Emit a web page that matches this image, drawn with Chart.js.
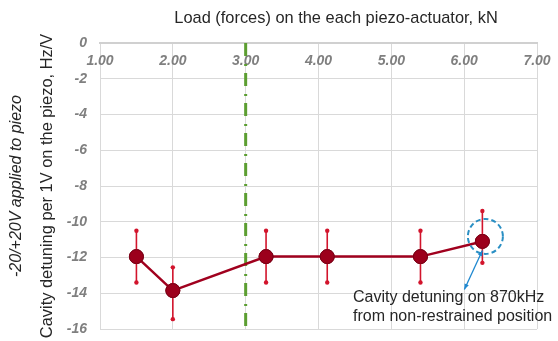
<!DOCTYPE html>
<html>
<head>
<meta charset="utf-8">
<script src="https://cdn.jsdelivr.net/npm/chart.js@4/dist/chart.umd.min.js"></script>
<style>
  html, body { margin: 0; padding: 0; background: #fff; }
  #wrap { width: 558px; height: 341px; position: relative; }
</style>
</head>
<body>
<div id="wrap"><canvas id="detuneChart"></canvas></div>
<script>
// Data
const loadKN = [1.50, 2.00, 3.28, 4.12, 5.40, 6.25];
const detuning = [-11.95, -13.85, -11.95, -11.95, -11.95, -11.1];
const errUpper = [-10.5, -12.55, -10.5, -10.5, -10.5, -9.4];
const errLower = [-13.4, -15.45, -13.4, -13.4, -13.4, -12.3];
const markerLoad = [3.00, 3.00];
const markerRange = [0, -16];
const xTicks = [1, 2, 3, 4, 5, 6, 7];
const yTicks = [0, -2, -4, -6, -8, -10, -12, -14, -16];
const noteIndex = 5;
const noteLines = ['Cavity detuning on 870kHz', 'from non-restrained position'];

// Colors
const lineColor = '#a0001e';
const errColor = '#d2142c';
const greenColor = '#5c9e31';
const blueColor = '#2a8fc4';
const tickColor = '#7f7f7f';
const gridColor = '#d9d9d9';
const textColor = '#262626';

const fontFamily = 'Liberation Sans, Arial, sans-serif';
const tickFont = { family: fontFamily, size: 14, weight: 'bold', style: 'italic' };

// error bars + annotation drawn with the chart's scales
const extrasPlugin = {
    id: 'extras',
    afterDatasetsDraw: (chart) => {
        const ctx = chart.ctx;
        const xs = chart.scales.x;
        const ys = chart.scales.y;

        // error bars
        ctx.save();
        ctx.strokeStyle = errColor;
        ctx.fillStyle = errColor;
        ctx.lineWidth = 1.6;
        loadKN.forEach((v, i) => {
            const px = xs.getPixelForValue(v);
            const top = ys.getPixelForValue(errUpper[i]);
            const bot = ys.getPixelForValue(errLower[i]);
            ctx.beginPath();
            ctx.moveTo(px, top);
            ctx.lineTo(px, bot);
            ctx.stroke();
            [top, bot].forEach(py => {
                ctx.beginPath();
                ctx.arc(px, py, 2.2, 0, Math.PI * 2);
                ctx.fill();
            });
        });
        ctx.restore();

        // redraw markers above error bars
        const meta = chart.getDatasetMeta(0);
        meta.data.forEach(pt => pt.draw(ctx));

        // dashed circle around the last point
        const cx = xs.getPixelForValue(loadKN[noteIndex]) + 3;
        const cy = ys.getPixelForValue(detuning[noteIndex]) - 5;
        ctx.save();
        ctx.strokeStyle = blueColor;
        ctx.lineWidth = 2;
        ctx.setLineDash([5, 3]);
        ctx.beginPath();
        ctx.arc(cx, cy, 17.5, 0, Math.PI * 2);
        ctx.stroke();
        ctx.restore();

        // arrow
        const ax1 = xs.getPixelForValue(loadKN[noteIndex]);
        const ay1 = ys.getPixelForValue(detuning[noteIndex]) + 9;
        const ax2 = ax1 - 18;
        const ay2 = ay1 + 39;
        ctx.save();
        ctx.strokeStyle = '#1e88d0';
        ctx.fillStyle = '#1e88d0';
        ctx.lineWidth = 1.3;
        ctx.beginPath();
        ctx.moveTo(ax1, ay1);
        ctx.lineTo(ax2, ay2);
        ctx.stroke();
        const ang = Math.atan2(ay2 - ay1, ax2 - ax1);
        [[ax2, ay2, ang], [ax1, ay1, ang + Math.PI]].forEach(([hx, hy, a]) => {
            ctx.beginPath();
            ctx.moveTo(hx, hy);
            ctx.lineTo(hx - 6 * Math.cos(a - 0.4), hy - 6 * Math.sin(a - 0.4));
            ctx.lineTo(hx - 6 * Math.cos(a + 0.4), hy - 6 * Math.sin(a + 0.4));
            ctx.closePath();
            ctx.fill();
        });
        ctx.restore();

        // note text
        ctx.save();
        ctx.fillStyle = textColor;
        ctx.font = '16px ' + fontFamily;
        ctx.textBaseline = 'middle';
        ctx.textAlign = 'left';
        ctx.fillText(noteLines[0], 353, 298);
        ctx.fillText(noteLines[1], 353, 317);
        ctx.restore();

        // chart title
        ctx.save();
        ctx.fillStyle = textColor;
        ctx.font = '16.4px ' + fontFamily;
        ctx.textAlign = 'center';
        ctx.textBaseline = 'middle';
        ctx.fillText('Load (forces) on the each piezo-actuator, kN', 336, 18);
        ctx.restore();
    }
};

new Chart(document.getElementById('detuneChart').getContext('2d'), {
    type: 'line',
    data: {
        datasets: [{
            label: 'Detuning',
            data: loadKN.map((v, i) => ({ x: v, y: detuning[i] })),
            borderColor: lineColor,
            backgroundColor: lineColor,
            borderWidth: 2.5,
            pointRadius: 7,
            pointBackgroundColor: '#9c001c',
            pointBorderColor: '#7a0016',
            pointBorderWidth: 1,
            tension: 0
        }, {
            label: 'Marker',
            data: markerLoad.map((v, i) => ({ x: v, y: markerRange[i] })),
            borderColor: greenColor,
            borderWidth: 3,
            borderDash: [13, 8, 2, 7],
            pointRadius: 0,
            order: 5
        }]
    },
    options: {
        responsive: true,
        maintainAspectRatio: false,
        animation: false,
        layout: { padding: { top: 43, right: 21, bottom: 12, left: 0 } },
        plugins: {
            legend: { display: false },
            title: { display: false },
            tooltip: { enabled: false }
        },
        scales: {
            y2: {
                type: 'linear',
                position: 'left',
                weight: 2,
                min: -16,
                max: 0,
                grid: { display: false, drawTicks: false },
                border: { display: false },
                ticks: { display: false },
                afterFit: (s) => { s.width = 30; s.paddingTop = 0; s.paddingBottom = 0; },
                title: {
                    display: true,
                    text: '-20/+20V applied to piezo',
                    color: textColor,
                    font: { family: fontFamily, size: 16, style: 'italic' },
                    padding: { top: 7, bottom: 0 }
                }
            },
            y: {
                type: 'linear',
                position: 'left',
                weight: 1,
                min: -16,
                max: 0,
                afterBuildTicks: (s) => { s.ticks = yTicks.map(v => ({ value: v })); },
                afterFit: (s) => { s.width = 70; s.paddingTop = 0; s.paddingBottom = 0; },
                grid: { color: gridColor, drawTicks: false, lineWidth: 1 },
                border: { display: false },
                ticks: { color: tickColor, font: tickFont, padding: 13 },
                title: {
                    display: true,
                    text: 'Cavity detuning per 1V on the piezo, Hz/V',
                    color: textColor,
                    font: { family: fontFamily, size: 16.4 },
                    padding: { top: 8, bottom: 0 }
                }
            },
            x: {
                type: 'linear',
                position: 'top',
                min: 1,
                max: 7,
                afterBuildTicks: (s) => { s.ticks = xTicks.map(v => ({ value: v })); },
                afterFit: (s) => { s.height = 0; s.paddingLeft = 0; s.paddingRight = 0; },
                grid: { color: gridColor, drawTicks: false, lineWidth: 1 },
                border: { display: true, color: '#d0d0d0', width: 2 },
                ticks: {
                    color: tickColor,
                    font: tickFont,
                    mirror: true,
                    padding: 10,
                    callback: (v) => Number(v).toFixed(2)
                }
            }
        }
    },
    plugins: [extrasPlugin]
});
</script>
</body>
</html>
